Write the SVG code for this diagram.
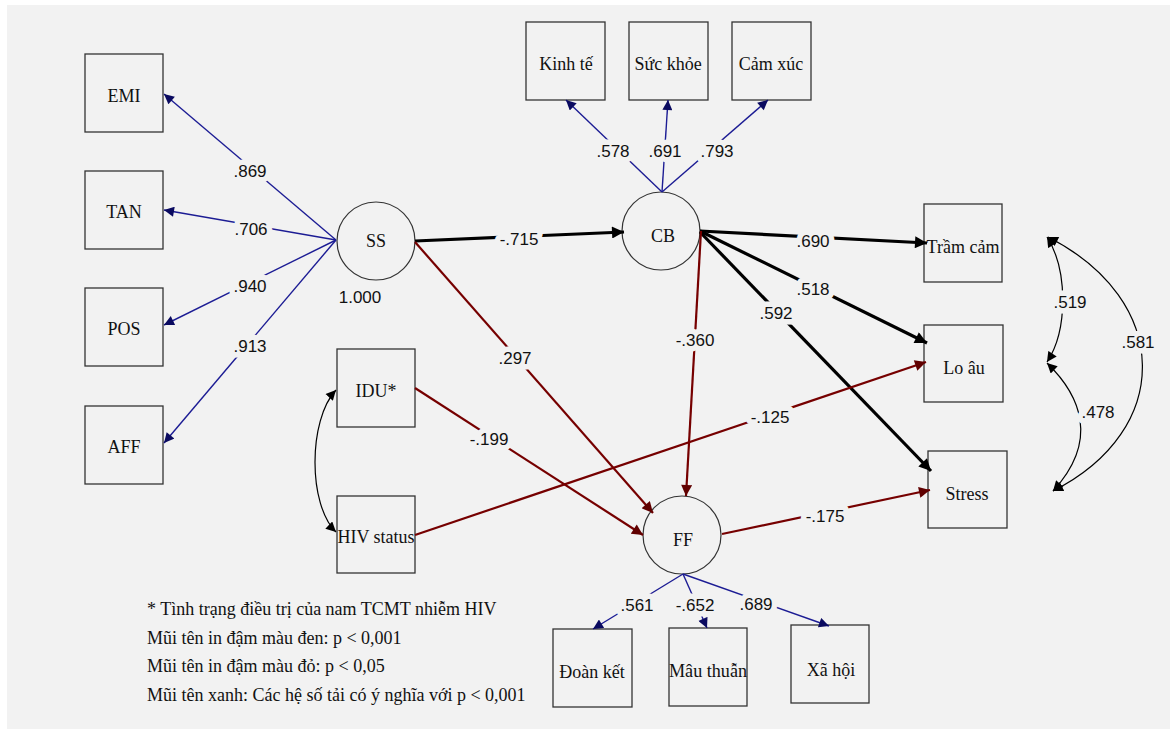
<svg xmlns="http://www.w3.org/2000/svg" width="1171" height="732" viewBox="0 0 1171 732">
<defs>
<style>
.box{fill:none;stroke:#333;stroke-width:1.3}
.lat{fill:none;stroke:#333;stroke-width:1.2}
.nt{font-family:"Liberation Serif","Times New Roman",serif;font-size:18px;fill:#111;text-anchor:middle}
.lg{font-family:"Liberation Serif","Times New Roman",serif;font-size:18px;fill:#111}
.lb{font-family:"Liberation Sans",Arial,sans-serif;font-size:17px;fill:#111;text-anchor:middle;stroke:#f2f2f2;stroke-width:11;paint-order:stroke;stroke-linejoin:round}
.blue{fill:none;stroke:#1c1c94;stroke-width:1.4;marker-end:url(#ab)}
.red{fill:none;stroke:#760000;stroke-width:2.2;marker-end:url(#ar)}
.blk{fill:none;stroke:#000;stroke-width:3.2;marker-end:url(#ak)}
.cov{fill:none;stroke:#000;stroke-width:1.2;marker-start:url(#ac);marker-end:url(#ac)}
</style>
<marker id="ab" viewBox="0 0 10 10" refX="10" refY="5" markerWidth="11" markerHeight="10" markerUnits="userSpaceOnUse" orient="auto"><path d="M0,0 L10,5 L0,10 z" fill="#0a0a60"/></marker>
<marker id="ar" viewBox="0 0 10 10" refX="10" refY="5" markerWidth="13" markerHeight="11" markerUnits="userSpaceOnUse" orient="auto"><path d="M0,0 L10,5 L0,10 z" fill="#600000"/></marker>
<marker id="ak" viewBox="0 0 10 10" refX="10" refY="5" markerWidth="14" markerHeight="12" markerUnits="userSpaceOnUse" orient="auto"><path d="M0,0 L10,5 L0,10 z" fill="#000"/></marker>
<marker id="ac" viewBox="0 0 10 10" refX="10" refY="5" markerWidth="11" markerHeight="10" markerUnits="userSpaceOnUse" orient="auto-start-reverse"><path d="M0,0 L10,5 L0,10 z" fill="#000"/></marker>
</defs>
<rect x="0" y="0" width="1171" height="732" fill="#fff"/>
<rect x="7" y="5" width="1163" height="724" fill="#f2f2f2"/>

<g id="EMI"><rect class="box" x="85" y="54" width="78" height="78"/><text class="nt" x="124" y="102">EMI</text></g>
<g id="TAN"><rect class="box" x="85" y="171" width="78" height="78"/><text class="nt" x="124" y="218">TAN</text></g>
<g id="POS"><rect class="box" x="85" y="288" width="78" height="78"/><text class="nt" x="124" y="335">POS</text></g>
<g id="AFF"><rect class="box" x="85" y="406" width="78" height="78"/><text class="nt" x="124" y="453">AFF</text></g>
<g id="SS"><circle class="lat" cx="376" cy="241" r="39"/><text class="nt" x="376" y="247">SS</text></g>
<g id="KinhTe"><rect class="box" x="526" y="22" width="79" height="78"/><text class="nt" x="566" y="70">Kinh tế</text></g>
<g id="SucKhoe"><rect class="box" x="629" y="22" width="79" height="78"/><text class="nt" x="668" y="70">Sức khỏe</text></g>
<g id="CamXuc"><rect class="box" x="732" y="22" width="79" height="78"/><text class="nt" x="771" y="70">Cảm xúc</text></g>
<g id="CB"><circle class="lat" cx="661" cy="231" r="39"/><text class="nt" x="663" y="242">CB</text></g>
<g id="TramCam"><rect class="box" x="924" y="204" width="78" height="78"/><text class="nt" x="963" y="253">Trầm cảm</text></g>
<g id="LoAu"><rect class="box" x="924" y="325" width="79" height="77"/><text class="nt" x="964" y="374">Lo âu</text></g>
<g id="Stress"><rect class="box" x="928" y="451" width="79" height="77"/><text class="nt" x="967" y="500">Stress</text></g>
<g id="IDU"><rect class="box" x="337" y="349" width="78" height="78"/><text class="nt" x="376" y="397">IDU*</text></g>
<g id="HIV"><rect class="box" x="337" y="496" width="78" height="77"/><text class="nt" x="376" y="543" textLength="77" lengthAdjust="spacingAndGlyphs">HIV status</text></g>
<g id="FF"><circle class="lat" cx="682" cy="535" r="39"/><text class="nt" x="683" y="546">FF</text></g>
<g id="DoanKet"><rect class="box" x="553" y="629" width="79" height="78"/><text class="nt" x="592" y="678">Đoàn kết</text></g>
<g id="MauThuan"><rect class="box" x="669" y="628" width="78" height="78"/><text class="nt" x="708" y="677" textLength="78" lengthAdjust="spacingAndGlyphs">Mâu thuẫn</text></g>
<g id="XaHoi"><rect class="box" x="791" y="625" width="78" height="78"/><text class="nt" x="831" y="676">Xã hội</text></g>

<g id="connectors">
<path class="blue" d="M336,240 L164,94"/>
<path class="blue" d="M336,240 L164,210"/>
<path class="blue" d="M336,240 L164,325"/>
<path class="blue" d="M336,240 L164,443"/>
<path class="blue" d="M662,192 L566,100"/>
<path class="blue" d="M662,192 L668,100"/>
<path class="blue" d="M662,192 L768,100"/>
<path class="blue" d="M683,574 L593,629"/>
<path class="blue" d="M683,574 L707,628"/>
<path class="blue" d="M683,574 L829,626"/>
<path class="blk" d="M415,241 L624,232"/>
<path class="blk" d="M700,231 L927,243"/>
<path class="blk" d="M700,231 L927,343"/>
<path class="blk" d="M700,232 L931,471"/>
<path class="red" d="M701,231 L686,496"/>
<path class="red" d="M415,242 L653,513"/>
<path class="red" d="M415,388 L643,535"/>
<path class="red" d="M415,535 L926,362"/>
<path class="red" d="M722,534 L930,490"/>
<path class="cov" d="M336,390 C308,420 308,505 336,532"/>
<path class="cov" d="M1047,237 C1068,270 1068,330 1047,362"/>
<path class="cov" d="M1048,237 C1172,300 1174,430 1053,491"/>
<path class="cov" d="M1047,363 C1080,395 1100,440 1053,491"/>
</g>

<g id="labels">
<text class="lb" x="250" y="177">.869</text>
<text class="lb" x="251" y="235">.706</text>
<text class="lb" x="250" y="292">.940</text>
<text class="lb" x="250" y="352">.913</text>
<text class="lb" x="360" y="303" style="stroke:none">1.000</text>
<text class="lb" x="613" y="157">.578</text>
<text class="lb" x="665" y="157">.691</text>
<text class="lb" x="717" y="157">.793</text>
<text class="lb" x="519" y="245">-.715</text>
<text class="lb" x="813" y="247">.690</text>
<text class="lb" x="813" y="295">.518</text>
<text class="lb" x="776" y="319">.592</text>
<text class="lb" x="695" y="346">-.360</text>
<text class="lb" x="515" y="364">.297</text>
<text class="lb" x="489" y="445">-.199</text>
<text class="lb" x="770" y="423">-.125</text>
<text class="lb" x="825" y="522">-.175</text>
<text class="lb" x="637" y="611">.561</text>
<text class="lb" x="695" y="611">-.652</text>
<text class="lb" x="756" y="610">.689</text>
<text class="lb" x="1070" y="308">.519</text>
<text class="lb" x="1138" y="348">.581</text>
<text class="lb" x="1098" y="418">.478</text>
</g>

<g id="legend">
<text class="lg" x="147" y="615">* Tình trạng điều trị của nam TCMT nhiễm HIV</text>
<text class="lg" x="147" y="644">Mũi tên in đậm màu đen: p &lt; 0,001</text>
<text class="lg" x="147" y="672">Mũi tên in đậm màu đỏ: p &lt; 0,05</text>
<text class="lg" x="147" y="701">Mũi tên xanh: Các hệ số tải có ý nghĩa với p &lt; 0,001</text>
</g>
</svg>
